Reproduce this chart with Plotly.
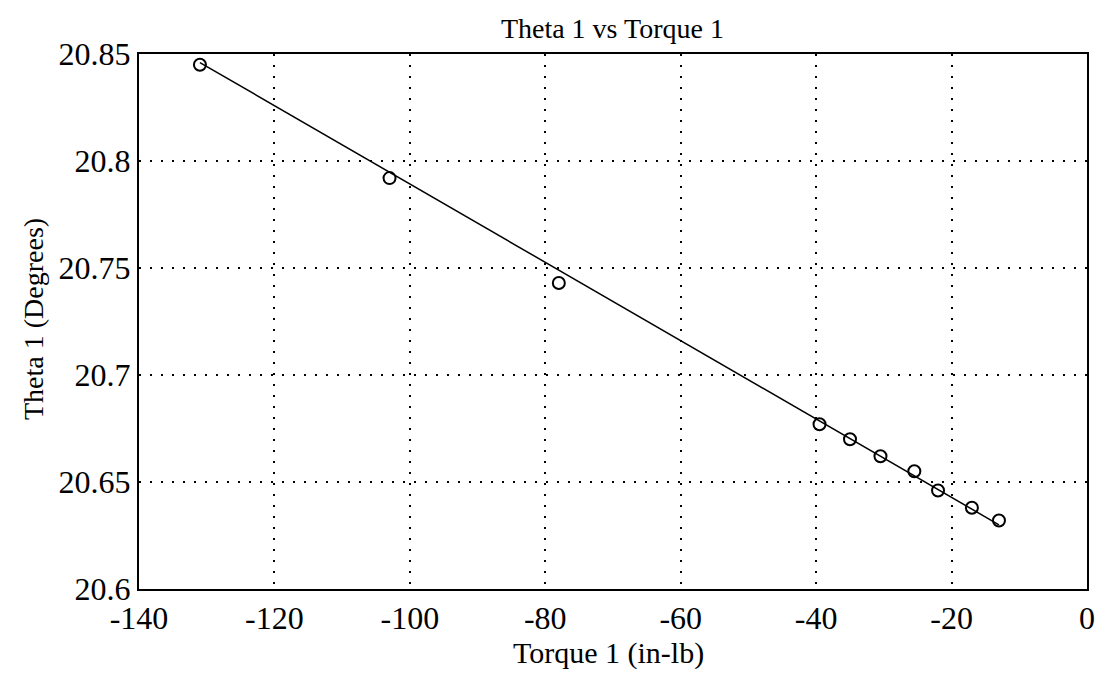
import plotly.graph_objects as go

torque = [-131, -103, -78, -39.5, -35, -30.5, -25.5, -22, -17, -13]
theta = [20.845, 20.792, 20.743, 20.677, 20.670, 20.662, 20.655, 20.646, 20.638, 20.632]
fit_x = [-131, -13]
fit_y = [20.846, 20.630]

x_ticks = [-140, -120, -100, -80, -60, -40, -20, 0]
y_ticks = [20.6, 20.65, 20.7, 20.75, 20.8, 20.85]
y_labels = ["20.6", "20.65", "20.7", "20.75", "20.8", "20.85"]

fig = go.Figure()
fig.add_trace(go.Scatter(x=fit_x, y=fit_y, mode="lines",
                         line=dict(color="black", width=1.5), showlegend=False))
fig.add_trace(go.Scatter(x=torque, y=theta, mode="markers",
                         marker=dict(symbol="circle-open", size=12, color="black",
                                     line=dict(width=2, color="black")),
                         showlegend=False))

font_family = "Liberation Serif, Times New Roman, serif"
L, R, T, B = 131, 30, 46, 93
W, H = 1109, 674
pw, ph = W - L - R, H - T - B

fig.update_layout(
    width=W, height=H,
    paper_bgcolor="white", plot_bgcolor="white",
    margin=dict(l=L, r=R, t=T, b=B),
    title=dict(text="Theta 1 vs Torque 1", x=0.545, xanchor="center", y=0.985, yanchor="top",
               font=dict(family=font_family, size=28, color="black")),
    font=dict(family=font_family, color="black"),
    xaxis=dict(range=[-140, 0], tickvals=x_ticks, ticktext=[str(v) for v in x_ticks],
               showgrid=True, gridcolor="black", griddash="2px,9px", gridwidth=2,
               showline=True, linecolor="black", linewidth=2, mirror=True,
               ticks="", zeroline=False,
               tickfont=dict(size=32, family=font_family, color="black")),
    yaxis=dict(range=[20.6, 20.85], tickvals=y_ticks, ticktext=y_labels,
               showgrid=True, gridcolor="black", griddash="2px,9px", gridwidth=2,
               showline=True, linecolor="black", linewidth=2, mirror=True,
               ticks="", zeroline=False,
               tickfont=dict(size=32, family=font_family, color="black")),
    annotations=[
        dict(text="Torque 1 (in-lb)", xref="paper", yref="paper",
             x=(600 - L) / pw, y=-(645 - (H - B)) / ph, xanchor="center", yanchor="middle",
             showarrow=False, font=dict(size=30, family=font_family, color="black")),
        dict(text="Theta 1 (Degrees)", xref="paper", yref="paper", textangle=-90,
             x=-(L - 26) / pw, y=1 - (311 - T) / ph, xanchor="center", yanchor="middle",
             showarrow=False, font=dict(size=28, family=font_family, color="black")),
    ],
)
fig.write_html("out.html")
